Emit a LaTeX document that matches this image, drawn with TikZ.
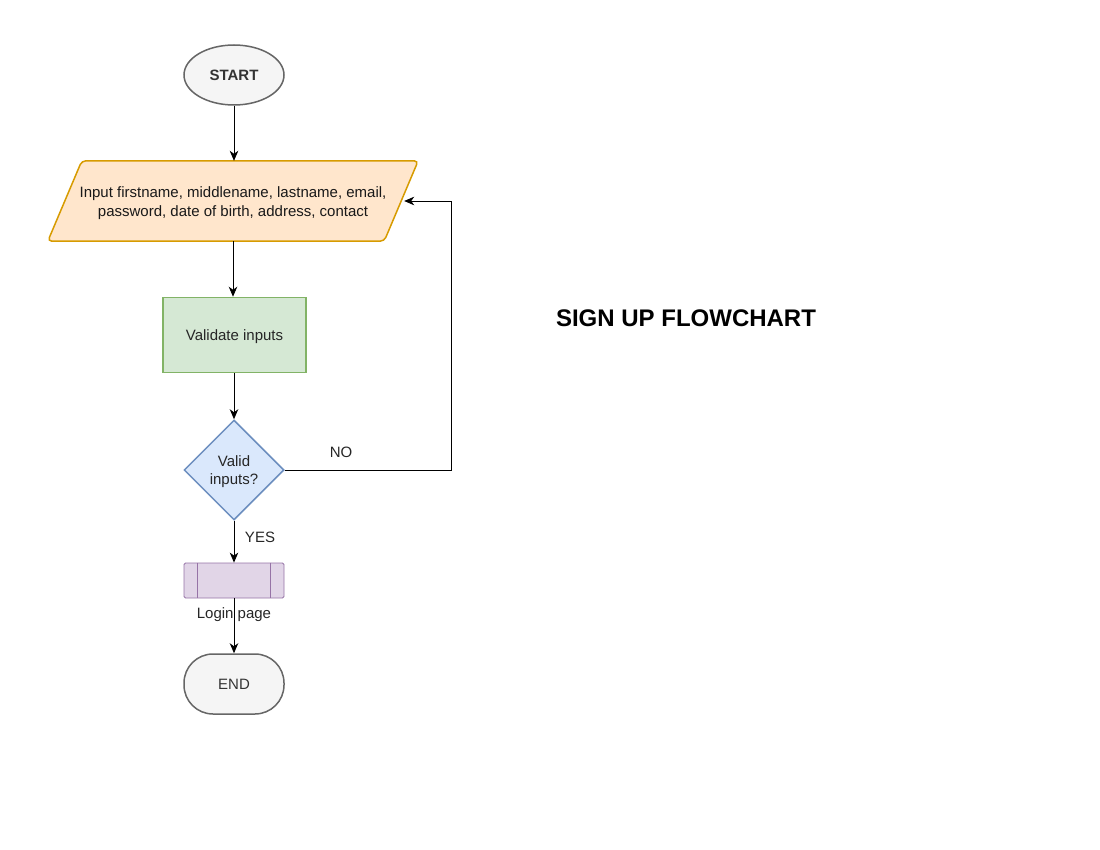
\documentclass[tikz,border=0pt]{standalone}
\usepackage{fontspec}
\setmainfont{Liberation Sans}
\usetikzlibrary{shapes.geometric,arrows.meta}
\definecolor{grayfill}{HTML}{F5F5F5}
\definecolor{graystroke}{HTML}{666666}
\definecolor{graytext}{HTML}{333333}
\definecolor{orfill}{HTML}{FFE6CC}
\definecolor{orstroke}{HTML}{D79B00}
\definecolor{grfill}{HTML}{D5E8D4}
\definecolor{grstroke}{HTML}{82B366}
\definecolor{blfill}{HTML}{DAE8FC}
\definecolor{blstroke}{HTML}{6C8EBF}
\definecolor{pufill}{HTML}{E1D5E7}
\definecolor{pustroke}{HTML}{9673A6}
\begin{document}
\begin{tikzpicture}[x=1pt,y=-1pt,
  txt/.style={font=\fontsize{15}{18.5}\selectfont, align=center, inner sep=0pt},
  oneline/.style={text height=11pt, text depth=0pt},
  term/.style={txt, oneline, draw=graystroke, fill=grayfill, line width=1.5pt, text=graytext},
  procbox/.style={txt, oneline, draw=grstroke, fill=grfill, line width=1.5pt, minimum width=143pt, minimum height=75pt, text=black!85},
  decbox/.style={txt, diamond, draw=blstroke, fill=blfill, line width=1.5pt, minimum width=100pt, minimum height=100pt, text=black!85},
  subbox/.style={txt, draw=pustroke, fill=pufill, line width=0.8pt, minimum width=100pt, minimum height=35pt, rounded corners=1.5pt},
  conn/.style={line width=0.9pt, -{Stealth[length=10pt,width=8.5pt,inset=3pt]}},
  lbl/.style={txt, text=black!85}
]
\useasboundingbox (0,0) rectangle (1100,850);

\node[term, ellipse, minimum width=100pt, minimum height=60pt, font=\fontsize{15}{18}\selectfont\bfseries] (start) at (234,75) {START};

\node[txt, minimum width=336pt, minimum height=80pt, text=black!90] (in) at (233,201) {};
\draw[draw=orstroke, fill=orfill, line width=1.5pt, rounded corners=4pt]
  ([xshift=17pt]in.north west) -- ([xshift=17pt]in.north east) -- ([xshift=-17pt]in.south east) -- ([xshift=-17pt]in.south west) -- cycle;
\node[txt, text=black!90] (intext) at (233,203) {Input firstname, middlename, lastname, email,\\ password, date of birth, address, contact};

\node[procbox] (val) at (234.5,335) {Validate inputs};

\node[decbox] (dec) at (234,470) {};
\node[lbl] (dectext) at (234,471.5) {Valid\\ inputs?};

\node[subbox] (login) at (234,580.5) {};
\draw[draw=pustroke, line width=0.8pt] ([xshift=14pt]login.north west) -- ([xshift=14pt]login.south west);
\draw[draw=pustroke, line width=0.8pt] ([xshift=-14pt]login.north east) -- ([xshift=-14pt]login.south east);
\node[lbl] (loginlbl) at (234,615) {Login page};

\node[term, rounded corners=29pt, minimum width=100pt, minimum height=60pt] (end) at (234,684) {END};

\node[txt, font=\fontsize{24}{28}\selectfont\bfseries] (title) at (686,318) {SIGN UP FLOWCHART};

\draw[conn] (start.south) -- (start.south |- in.north);
\draw[conn] (in.south) -- (val.north -| in.south);
\draw[conn] (val.south -| dec.north) -- (dec.north);
\draw[conn] (dec.south) -- (login.north);
\draw[conn] (login.south) -- (end.north);
\coordinate (corner) at (451,470);
\draw[conn] (dec.east) -- (corner) |- ([xshift=3pt]in.east);

\node[lbl] (no) at (341,452) {NO};
\node[lbl] (yes) at (260,537) {YES};
\end{tikzpicture}
\end{document}
